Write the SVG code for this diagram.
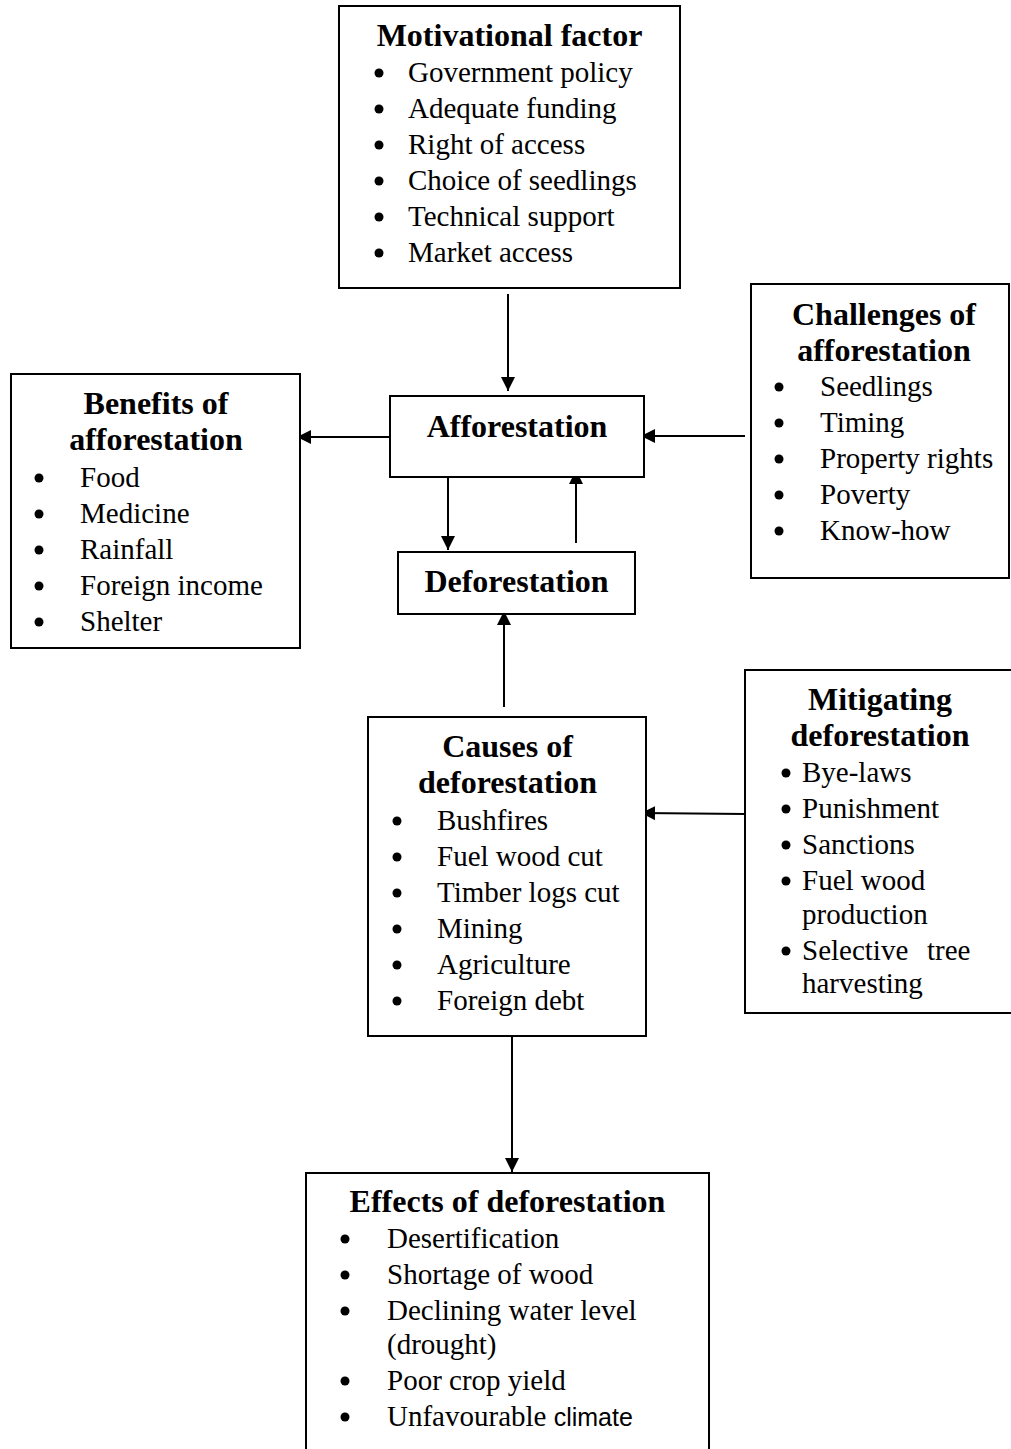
<svg xmlns="http://www.w3.org/2000/svg" width="1011" height="1449" viewBox="0 0 1011 1449">
<style>
.box{fill:#fff;stroke:#000;stroke-width:2}
.t{font-family:"Liberation Serif","Times New Roman",serif;font-weight:bold;font-size:32px;text-anchor:middle;fill:#000}
.b{font-family:"Liberation Serif","Times New Roman",serif;font-size:29px;fill:#000}
.s{font-family:"Liberation Sans",Arial,sans-serif;font-size:25px}
.dot{fill:#000}
.c{stroke:#000;stroke-width:2;fill:none;marker-end:url(#ah)}
</style>
<defs>
<marker id="ah" markerUnits="userSpaceOnUse" markerWidth="14" markerHeight="14" viewBox="0 0 14 14" refX="14" refY="7" orient="auto">
<path d="M0,0 L14,7 L0,14 Z" fill="#000"/>
</marker>
</defs>
<rect width="1011" height="1449" fill="#fff"/>
<g id="connectors">
<line class="c" x1="508" y1="294" x2="508" y2="391"/>
<line class="c" x1="392" y1="437" x2="297" y2="437"/>
<line class="c" x1="745" y1="436" x2="641" y2="436"/>
<line class="c" x1="448" y1="478" x2="448" y2="550"/>
<line class="c" x1="576" y1="543" x2="576" y2="470"/>
<line class="c" x1="504" y1="707" x2="504" y2="611"/>
<line class="c" x1="745" y1="814" x2="641" y2="813"/>
<line class="c" x1="512" y1="1037" x2="512" y2="1172"/>
</g>
<g id="motivational">
<rect class="box" x="339" y="6" width="341" height="282"/>
<text class="t" x="509.5" y="46">Motivational factor</text>
<g class="dot"><circle cx="379" cy="73" r="4.5"/><circle cx="379" cy="109" r="4.5"/><circle cx="379" cy="145" r="4.5"/><circle cx="379" cy="181" r="4.5"/><circle cx="379" cy="217" r="4.5"/><circle cx="379" cy="253" r="4.5"/></g>
<text class="b" x="408" y="82">Government policy</text>
<text class="b" x="408" y="118">Adequate funding</text>
<text class="b" x="408" y="154">Right of access</text>
<text class="b" x="408" y="190">Choice of seedlings</text>
<text class="b" x="408" y="226">Technical support</text>
<text class="b" x="408" y="262">Market access</text>
</g>
<g id="challenges">
<rect class="box" x="751" y="284" width="258" height="294"/>
<text class="t" x="884" y="325">Challenges of</text>
<text class="t" x="884" y="361">afforestation</text>
<g class="dot"><circle cx="779" cy="387" r="4.5"/><circle cx="779" cy="423" r="4.5"/><circle cx="779" cy="459" r="4.5"/><circle cx="779" cy="495" r="4.5"/><circle cx="779" cy="531" r="4.5"/></g>
<text class="b" x="820" y="396">Seedlings</text>
<text class="b" x="820" y="432">Timing</text>
<text class="b" x="820" y="468">Property rights</text>
<text class="b" x="820" y="504">Poverty</text>
<text class="b" x="820" y="540">Know-how</text>
</g>
<g id="benefits">
<rect class="box" x="11" y="374" width="289" height="274"/>
<text class="t" x="156" y="414">Benefits of</text>
<text class="t" x="156" y="450">afforestation</text>
<g class="dot"><circle cx="39" cy="478" r="4.5"/><circle cx="39" cy="514" r="4.5"/><circle cx="39" cy="550" r="4.5"/><circle cx="39" cy="586" r="4.5"/><circle cx="39" cy="622" r="4.5"/></g>
<text class="b" x="80" y="487">Food</text>
<text class="b" x="80" y="523">Medicine</text>
<text class="b" x="80" y="559">Rainfall</text>
<text class="b" x="80" y="595">Foreign income</text>
<text class="b" x="80" y="631">Shelter</text>
</g>
<g id="afforestation">
<rect class="box" x="390" y="396" width="254" height="81"/>
<text class="t" x="517" y="437">Afforestation</text>
</g>
<g id="deforestation">
<rect class="box" x="398" y="552" width="237" height="62"/>
<text class="t" x="516.5" y="592">Deforestation</text>
</g>
<g id="causes">
<rect class="box" x="368" y="717" width="278" height="319"/>
<text class="t" x="507.5" y="757">Causes of</text>
<text class="t" x="507.5" y="793">deforestation</text>
<g class="dot"><circle cx="397" cy="821" r="4.5"/><circle cx="397" cy="857" r="4.5"/><circle cx="397" cy="893" r="4.5"/><circle cx="397" cy="929" r="4.5"/><circle cx="397" cy="965" r="4.5"/><circle cx="397" cy="1001" r="4.5"/></g>
<text class="b" x="437" y="830">Bushfires</text>
<text class="b" x="437" y="866">Fuel wood cut</text>
<text class="b" x="437" y="902">Timber logs cut</text>
<text class="b" x="437" y="938">Mining</text>
<text class="b" x="437" y="974">Agriculture</text>
<text class="b" x="437" y="1010">Foreign debt</text>
</g>
<g id="mitigating">
<rect class="box" x="745" y="670" width="270" height="343"/>
<text class="t" x="880" y="710">Mitigating</text>
<text class="t" x="880" y="746">deforestation</text>
<g class="dot"><circle cx="786" cy="773" r="4.5"/><circle cx="786" cy="809" r="4.5"/><circle cx="786" cy="845" r="4.5"/><circle cx="786" cy="881" r="4.5"/><circle cx="786" cy="951" r="4.5"/></g>
<text class="b" x="802" y="782">Bye-laws</text>
<text class="b" x="802" y="818">Punishment</text>
<text class="b" x="802" y="854">Sanctions</text>
<text class="b" x="802" y="890">Fuel wood</text>
<text class="b" x="802" y="924">production</text>
<text class="b" x="802" y="960">Selective <tspan x="927">tree</tspan></text>
<text class="b" x="802" y="993">harvesting</text>
</g>
<g id="effects">
<rect class="box" x="306" y="1173" width="403" height="300"/>
<text class="t" x="507.5" y="1212">Effects of deforestation</text>
<g class="dot"><circle cx="345" cy="1239" r="4.5"/><circle cx="345" cy="1275" r="4.5"/><circle cx="345" cy="1311" r="4.5"/><circle cx="345" cy="1381" r="4.5"/><circle cx="345" cy="1417" r="4.5"/></g>
<text class="b" x="387" y="1248">Desertification</text>
<text class="b" x="387" y="1284">Shortage of wood</text>
<text class="b" x="387" y="1320">Declining water level</text>
<text class="b" x="387" y="1354">(drought)</text>
<text class="b" x="387" y="1390">Poor crop yield</text>
<text class="b" x="387" y="1426">Unfavourable <tspan class="s">climate</tspan></text>
</g>
</svg>
